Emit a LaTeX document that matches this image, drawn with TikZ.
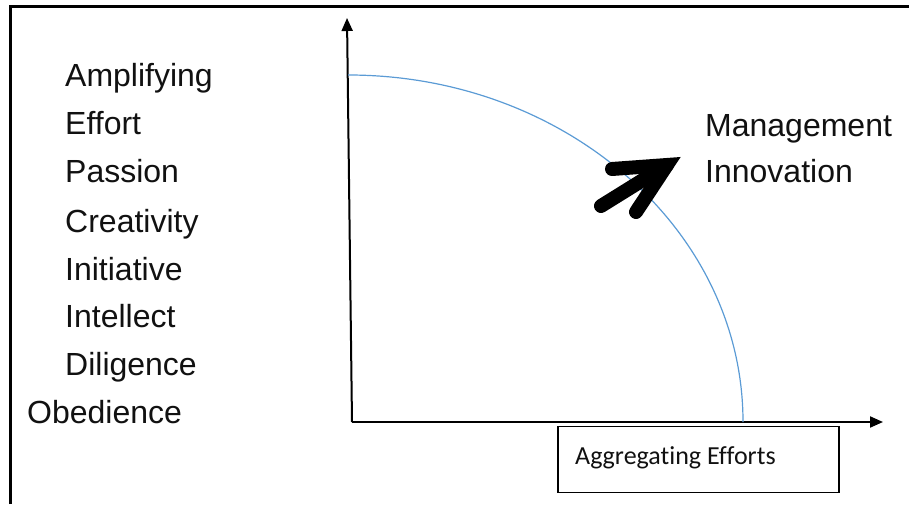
\documentclass[tikz,border=0pt]{standalone}
\usepackage{fontspec}
\setmainfont{Liberation Sans}
\newfontfamily\boxfont[Ligatures=NoCommon]{Carlito}
\usetikzlibrary{arrows.meta}
\definecolor{curveblue}{HTML}{5B9BD5}
\definecolor{txt}{HTML}{111111}
\tikzset{
  lbl/.style={anchor=base west, inner sep=0pt, text=txt, font=\fontsize{32}{38}\selectfont},
  axis/.style={line width=2pt, -{Triangle[length=13pt,width=11pt]}},
  frame/.style={line width=3pt},
  boxstyle/.style={draw, line width=1.5pt},
  bigarrow/.style={line width=14pt, line cap=round, line join=miter},
}
\begin{document}
\begin{tikzpicture}[x=1pt,y=1pt]
\useasboundingbox (0,0) rectangle (909,504);
% frame (top and left edges visible)
\coordinate (ftl) at (10,497);
\coordinate (ftr) at (909,497);
\draw[frame] (10,0) -- (ftl) -- (ftr);
% left column labels
\node[lbl] (amp) at (65,417) {Amplifying};
\node[lbl] (eff) at (65,369) {Effort};
\node[lbl] (pas) at (65,321) {Passion};
\node[lbl] (cre) at (65,272) {Creativity};
\node[lbl] (ini) at (65,224) {Initiative};
\node[lbl] (int) at (65,177) {Intellect};
\node[lbl] (dil) at (65,129) {Diligence};
\node[lbl] (obe) at (27,81) {Obedience};
% right labels
\node[lbl] (man) at (705,367) {Management};
\node[lbl] (inn) at (705,321) {Innovation};
% axes
\coordinate (O) at (352,82);
\coordinate (ytop) at (347,486);
\coordinate (xend) at (883,82);
\draw[axis] (O) -- (ytop);
\draw[axis] (O) -- (xend);
% curve
\coordinate (cs) at (348,429);
\draw[curveblue, line width=1.2pt] (cs) arc[start angle=90, end angle=0, x radius=395, y radius=347];
% box
\node[boxstyle, anchor=south west, minimum width=281pt, minimum height=66pt, inner sep=0pt] (agg) at (557,11) {};
\node[anchor=base west, inner sep=0pt, font=\boxfont\fontsize{26}{31}\selectfont, text=txt] (aggt) at (575,40) {Aggregating Efforts};
% big arrow
\coordinate (T) at (667,339);
\coordinate (A1) at (612,335);
\coordinate (A2) at (636,292);
\coordinate (S) at (601,298);
\draw[bigarrow] (S) -- (T);
\draw[bigarrow] (A1) -- (T) -- (A2);
\end{tikzpicture}
\end{document}
